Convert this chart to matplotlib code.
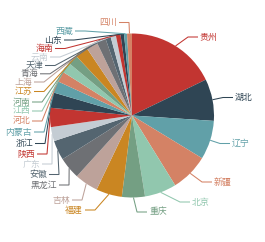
import matplotlib
matplotlib.use('Agg')
import matplotlib.pyplot as plt
import numpy as np

plt.rcParams['font.family'] = ['Noto Sans CJK SC', 'DejaVu Sans']

# ---- data ----
provinces = ['贵州', '湖北', '辽宁', '新疆', '北京', '重庆', '福建', '吉林', '黑龙江', '安徽',
             '广东', '陕西', '浙江', '内蒙古', '河北', '江西', '河南', '江苏', '上海', '青海',
             '天津', '云南', '海南', '山东', '西藏', '四川']
values = [64.1, 29.7, 27.6, 26.9, 22.6, 16.3, 18.4, 16.7, 15.6, 14.0,
          10.0, 13.6, 10.9, 8.4, 7.5, 7.5, 7.1, 9.3, 8.2, 6.7,
          3.8, 3.8, 3.3, 2.5, 2.1, 3.5]

# ---- style / layout ----
palette = ['#c23531', '#2f4554', '#61a0a8', '#d48265', '#91c7ae', '#749f83',
           '#ca8622', '#bda29a', '#6e7074', '#546570', '#c4ccd3']
# label layout in pixels (y measured from top): side, text edge x, text centre y
label_layout = [
    ('R', 200, 37), ('R', 235, 97.5), ('R', 232, 143.5), ('R', 214, 182),
    ('R', 192, 202), ('R', 149, 212),
    ('L', 83, 210), ('L', 70, 200), ('L', 57, 185), ('L', 47, 174.5),
    ('L', 40, 164), ('L', 35, 154), ('L', 33, 143.5), ('L', 32, 132),
    ('L', 30, 121), ('L', 30, 111), ('L', 30, 102), ('L', 32, 91.5),
    ('L', 32, 82), ('L', 38, 73.8), ('L', 43, 65.5), ('L', 48, 57),
    ('L', 53, 48.5), ('L', 62, 40), ('L', 73, 31), ('L', 117, 22.5),
]

W, H = 265, 242
cx, cy = 132, 115.5
R = 82

fig = plt.figure(figsize=(W / 100, H / 100), dpi=100)
fig.patch.set_facecolor('white')
ax = fig.add_axes([0, 0, 1, 1])
colors = [palette[i % len(palette)] for i in range(len(values))]
wedges, _ = ax.pie(values, colors=colors, startangle=90, counterclock=False,
                   radius=R, center=(cx, H - cy),
                   wedgeprops=dict(linewidth=0), frame=True)
ax.set_xlim(0, W)
ax.set_ylim(0, H)
ax.set_aspect('equal')
ax.axis('off')

for w, name, col, (side, tx, ty) in zip(wedges, provinces, colors, label_layout):
    th = np.deg2rad((w.theta1 + w.theta2) / 2)
    sx, sy = cx + R * np.cos(th), (H - cy) + R * np.sin(th)
    tyu = H - ty
    if side == 'R':
        ex, endx, ha = tx - 12, tx - 2, 'left'
    else:
        ex, endx, ha = tx + 12, tx + 2, 'right'
    ax.plot([sx, ex, endx], [sy, tyu, tyu], color=col, lw=0.75,
            solid_joinstyle='miter', solid_capstyle='butt')
    ax.text(tx, tyu, name, color=col, fontsize=6.4, ha=ha, va='center')

fig.savefig('out.png', dpi=100, facecolor='white')
